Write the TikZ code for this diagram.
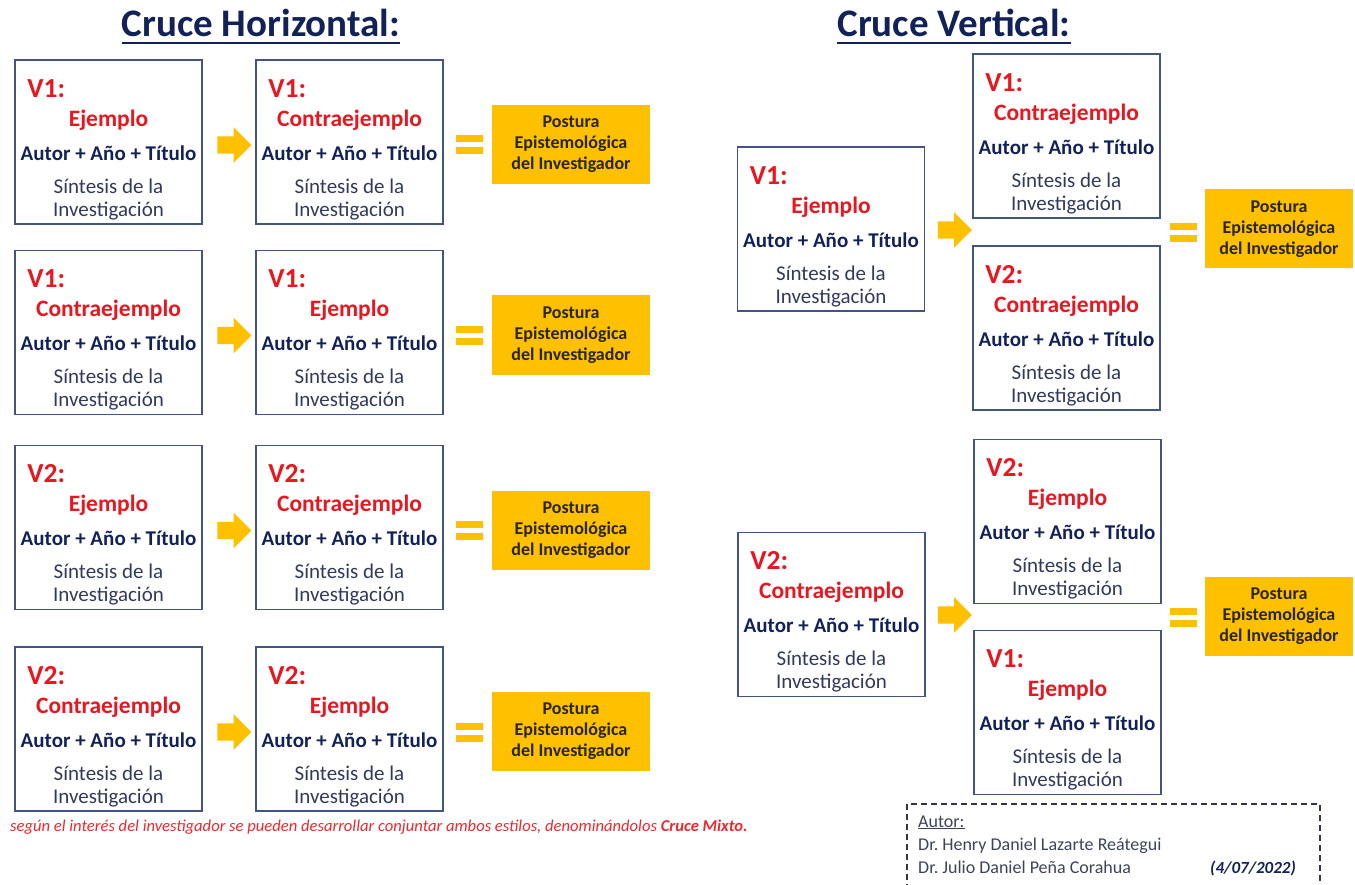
\documentclass[tikz,border=0pt]{standalone}
\usepackage{fontspec}
\setmainfont{Carlito}
\usetikzlibrary{calc,shapes.arrows}
\frenchspacing

\definecolor{vrojo}{RGB}{232,22,30}
\definecolor{marino}{RGB}{18,34,88}
\definecolor{pizarra}{RGB}{48,58,90}
\definecolor{marco}{RGB}{68,84,130}
\definecolor{oro}{RGB}{255,192,0}
\definecolor{oscuro}{RGB}{40,38,30}
\definecolor{gris}{RGB}{60,68,90}

\tikzset{
  ficha/.style={draw=marco, line width=1.6pt, minimum width=187pt, minimum height=164pt, inner sep=0pt},
  vlab/.style={anchor=base west, inner sep=0pt, text=vrojo, font=\fontsize{27.5}{31}\selectfont\bfseries},
  tipo/.style={anchor=base, inner sep=0pt, text=vrojo, font=\fontsize{23.5}{27}\selectfont\bfseries},
  autor/.style={anchor=base, inner sep=0pt, text=marino, font=\fontsize{21}{25}\selectfont\bfseries},
  sint/.style={anchor=base, inner sep=0pt, text=pizarra, font=\fontsize{21}{25}\selectfont},
  flecha/.style={single arrow, fill=oro, draw=none, minimum height=34pt, inner xsep=0pt, inner ysep=8.5pt, single arrow head extend=9pt},
  postura/.style={fill=oro, minimum height=79pt, align=center, text=oscuro, font=\fontsize{18}{21}\selectfont\bfseries},
  titulo/.style={anchor=base, inner sep=0pt, text=marino, font=\fontsize{39}{44}\selectfont\bfseries},
  firma/.style={anchor=base west, inner sep=0pt, text=gris, font=\fontsize{18}{21}\selectfont}
}

% tarjeta: nombre, x, y, variable, tipo
\newcommand{\ficha}[5]{%
  \node[ficha] (#1) at (#2,#3) {};
  \node[vlab] (#1v) at ($(#1.north west)+(13,38)$) {#4:};
  \node[tipo] (#1t) at ($(#1.north)+(0,67)$) {#5};
  \node[autor] (#1a) at ($(#1.north)+(0,101)$) {Autor + Año + Título};
  \node[sint] (#1s) at ($(#1.north)+(0,134)$) {Síntesis de la};
  \node[sint] (#1i) at ($(#1.north)+(0,157)$) {Investigación};
}
% signo igual
\newcommand{\igual}[2]{%
  \fill[oro] (#1-13.5,#2-9.5) rectangle (#1+13.5,#2-2.5);
  \fill[oro] (#1-13.5,#2+2.5) rectangle (#1+13.5,#2+9.5);
}

\begin{document}
\begin{tikzpicture}[x=1pt,y=-1pt]
  \useasboundingbox (0,0) rectangle (1355,885);

  % Titulos
  \node[titulo] (tH) at (261,37) {Cruce Horizontal:};
  \draw[marino, line width=2.6pt] ($(tH.base west)+(0,6)$) -- ($(tH.base east)+(0,6)$);
  \node[titulo] (tV) at (954,37) {Cruce Vertical:};
  \draw[marino, line width=2.6pt] ($(tV.base west)+(0,6)$) -- ($(tV.base east)+(0,6)$);

  % Cruce horizontal
  \foreach \fila/\y/\va/\ta/\vb/\tb in {1/142/V1/Ejemplo/V1/Contraejemplo,
      2/332.5/V1/Contraejemplo/V1/Ejemplo,
      3/527.5/V2/Ejemplo/V2/Contraejemplo,
      4/729/V2/Contraejemplo/V2/Ejemplo} {
    \ficha{ha\fila}{108.5}{\y}{\va}{\ta}
    \ficha{hb\fila}{349.5}{\y}{\vb}{\tb}
    \node[flecha] (hf\fila) at (230,\y+3) {};
    \igual{469.5}{\y+3}
    \node[postura, minimum width=158pt] (hp\fila) at (571,\y+2.5) {Postura\\Epistemológica\\del Investigador};
  }

  % Cruce vertical
  \ficha{va1}{831}{229}{V1}{Ejemplo}
  \ficha{vb1}{1066.5}{136}{V1}{Contraejemplo}
  \ficha{vc1}{1066.5}{328}{V2}{Contraejemplo}
  \node[flecha] (vf1) at (950.5,230) {};
  \igual{1183.5}{233}
  \node[postura, minimum width=148pt] (vp1) at (1279,229) {Postura\\Epistemológica\\del Investigador};

  \ficha{va2}{831.5}{614.5}{V2}{Contraejemplo}
  \ficha{vb2}{1067.5}{521.5}{V2}{Ejemplo}
  \ficha{vc2}{1067.5}{712.5}{V1}{Ejemplo}
  \node[flecha] (vf2) at (950.5,615) {};
  \igual{1183.5}{617}
  \node[postura, minimum width=148pt] (vp2) at (1279,616) {Postura\\Epistemológica\\del Investigador};

  % Nota
  \node[anchor=base west, inner sep=0pt, text=vrojo!92!white, font=\fontsize{16.6}{19}\selectfont\itshape] (nota) at (10,831)
    {según el interés del investigador se pueden desarrollar conjuntar ambos estilos, denominándolos \textbf{Cruce Mixto.}};

  % Autores
  \draw[gris!80!black, line width=1.3pt, dash pattern=on 6pt off 4pt] (907,890) -- (907,804) -- (1320,804) -- (1320,890);
  \node[firma] (f1) at (918,827) {\underline{Autor:}};
  \node[firma] (f2) at (918,850) {Dr. Henry Daniel Lazarte Reátegui};
  \node[firma] (f3) at (918,873) {Dr. Julio Daniel Peña Corahua};
  \node[firma, text=marino, font=\fontsize{17}{20}\selectfont\bfseries\itshape] (f4) at (1210,873) {(4/07/2022)};
\end{tikzpicture}
\end{document}
